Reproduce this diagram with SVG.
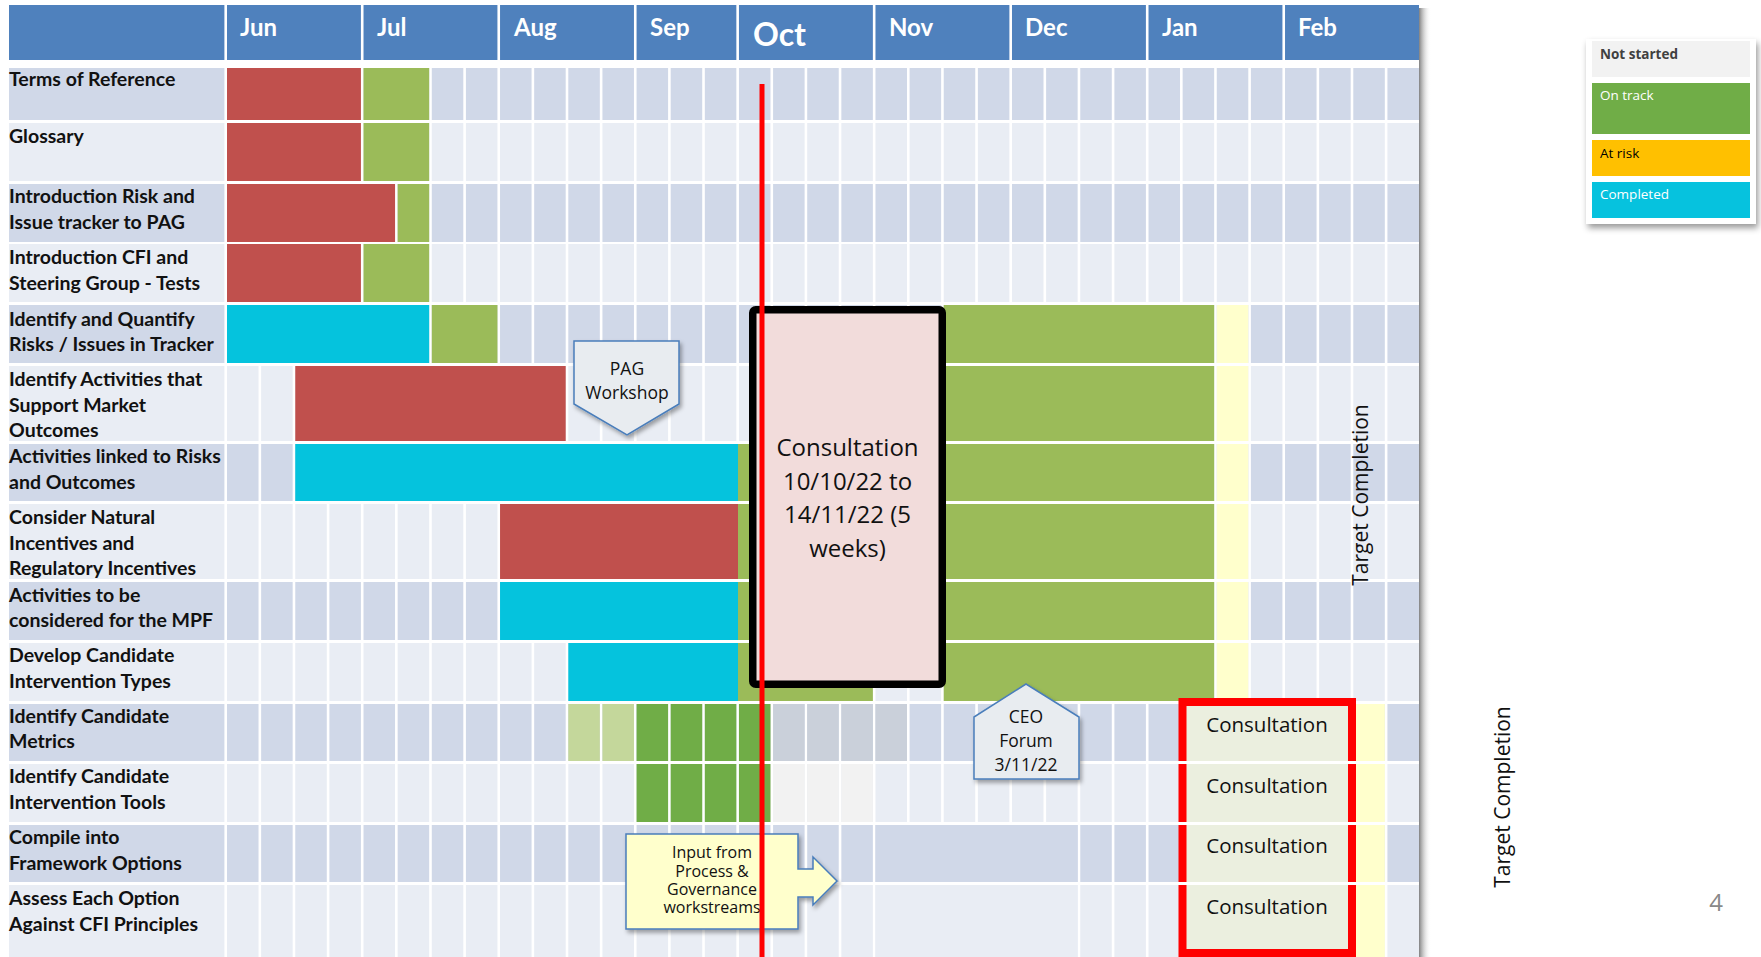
<svg xmlns="http://www.w3.org/2000/svg" width="1761" height="957" viewBox="0 0 1761 957">
<defs>
<style>
.lbl{font-family:Lato,"Open Sans","Liberation Sans",sans-serif;font-weight:700;font-size:19.5px;fill:#111}
.mon{font-family:Lato,"Open Sans","Liberation Sans",sans-serif;font-weight:700;font-size:24px;fill:#fff}
.os{font-family:"Open Sans","Liberation Sans",sans-serif;fill:#111}
.red{fill:#C0504D}.grn{fill:#9BBB59}.cyan{fill:#05C3DD}.yel{fill:#FFFFCC}
.dk{fill:#D0D8E8}.lt{fill:#E9EDF4}.og{fill:#70AD47}.lg{fill:#C4D79B}.gy{fill:#CAD0DA}.ng{fill:#F2F2F2}
.call{stroke:#4A7EBB;stroke-width:1.5}
</style>
<filter id="sh" x="-20%" y="-20%" width="150%" height="150%"><feDropShadow dx="2" dy="3" stdDeviation="2" flood-color="#000" flood-opacity="0.35"/></filter>
<filter id="lsh" x="-20%" y="-20%" width="150%" height="150%"><feDropShadow dx="2" dy="4" stdDeviation="3" flood-color="#000" flood-opacity="0.4"/></filter>
<linearGradient id="tsh" x1="0" x2="1" y1="0" y2="0"><stop offset="0" stop-color="#808080"/><stop offset="1" stop-color="#fff" stop-opacity="0"/></linearGradient>
</defs>
<rect width="1761" height="957" fill="#fff"/>

<!-- table shadow -->
<rect x="1419" y="8" width="12" height="949" fill="url(#tsh)"/>

<g id="header">
<rect x="9" y="5" width="1410" height="55" fill="#4F81BD"/>
<path d="M225.7 5V60M362.22 5V60M498.74 5V60M635.26 5V60M737.65 5V60M874.17 5V60M1010.69 5V60M1147.21 5V60M1283.73 5V60" stroke="#fff" stroke-width="2.6"/>
<text class="mon" x="240" y="36">Jun</text>
<text class="mon" x="377" y="36">Jul</text>
<text class="mon" x="514" y="36">Aug</text>
<text class="mon" x="650" y="36">Sep</text>
<text class="mon" x="753" y="46" style="font-size:32px">Oct</text>
<text class="mon" x="889" y="36">Nov</text>
<text class="mon" x="1025" y="36">Dec</text>
<text class="mon" x="1162" y="36">Jan</text>
<text class="mon" x="1298" y="36">Feb</text>
</g>

<g id="grid">
<rect class="dk" x="9" y="68" width="1410" height="52"/>
<rect class="lt" x="9" y="123" width="1410" height="58"/>
<rect class="dk" x="9" y="184" width="1410" height="58"/>
<rect class="lt" x="9" y="244" width="1410" height="58"/>
<rect class="dk" x="9" y="305" width="1410" height="58"/>
<rect class="lt" x="9" y="366" width="1410" height="75"/>
<rect class="dk" x="9" y="444" width="1410" height="57"/>
<rect class="lt" x="9" y="504" width="1410" height="75"/>
<rect class="dk" x="9" y="582" width="1410" height="58"/>
<rect class="lt" x="9" y="643" width="1410" height="58"/>
<rect class="dk" x="9" y="704" width="1410" height="57"/>
<rect class="lt" x="9" y="764" width="1410" height="58"/>
<rect class="dk" x="9" y="825" width="1410" height="57"/>
<rect class="lt" x="9" y="885" width="1410" height="72"/>
<path d="M225.7 60V957M259.83 60V957M293.96 60V957M328.09 60V957M362.22 60V957M396.35 60V957M430.48 60V957M464.61 60V957M498.74 60V957M532.87 60V957M567 60V957M601.13 60V957M635.26 60V957M669.39 60V957M703.52 60V957M737.65 60V957M771.78 60V957M805.91 60V957M840.04 60V957M874.17 60V957M908.3 60V957M942.43 60V957M976.56 60V957M1010.69 60V957M1044.82 60V957M1078.95 60V957M1113.08 60V957M1147.21 60V957M1181.34 60V957M1215.47 60V957M1249.6 60V957M1283.73 60V957M1317.86 60V957M1351.99 60V957M1386.12 60V957" stroke="#fff" stroke-width="2.6"/>
</g>

<g id="row-01">
<text class="lbl" x="9" y="86">Terms of Reference</text>
<rect class="red" x="227" y="68" width="133.92" height="52"/>
<rect class="grn" x="363.52" y="68" width="65.66" height="52"/>
</g>
<g id="row-02">
<text class="lbl" x="9" y="143">Glossary</text>
<rect class="red" x="227" y="123" width="133.92" height="58"/>
<rect class="grn" x="363.52" y="123" width="65.66" height="58"/>
</g>
<g id="row-03">
<text class="lbl" x="9" y="203">Introduction Risk and<tspan x="9" y="229">Issue tracker to PAG</tspan></text>
<rect class="red" x="227" y="184" width="168.05" height="58"/>
<rect class="grn" x="397.65" y="184" width="31.53" height="58"/>
</g>
<g id="row-04">
<text class="lbl" x="9" y="264">Introduction CFI and<tspan x="9" y="290">Steering Group - Tests</tspan></text>
<rect class="red" x="227" y="244" width="133.92" height="58"/>
<rect class="grn" x="363.52" y="244" width="65.66" height="58"/>
</g>
<g id="row-05">
<text class="lbl" x="9" y="326">Identify and Quantify<tspan x="9" y="351">Risks / Issues in Tracker</tspan></text>
<rect class="cyan" x="227" y="305" width="202.18" height="58"/>
<rect class="grn" x="431.78" y="305" width="65.66" height="58"/>
<rect class="grn" x="943.73" y="305" width="270.44" height="58"/>
<rect class="yel" x="1216.77" y="305" width="31.53" height="58"/>
</g>
<g id="row-06">
<text class="lbl" x="9" y="386">Identify Activities that<tspan x="9" y="412">Support Market</tspan><tspan x="9" y="437">Outcomes</tspan></text>
<rect class="red" x="295.26" y="366" width="270.44" height="75"/>
<rect class="grn" x="943.73" y="366" width="270.44" height="75"/>
<rect class="yel" x="1216.77" y="366" width="31.53" height="75"/>
</g>
<g id="row-07">
<text class="lbl" x="9" y="463">Activities linked to Risks<tspan x="9" y="489">and Outcomes</tspan></text>
<rect class="cyan" x="295.26" y="444" width="442.74" height="57"/>
<rect class="grn" x="738" y="444" width="476.17" height="57"/>
<rect class="yel" x="1216.77" y="444" width="31.53" height="57"/>
</g>
<g id="row-08">
<text class="lbl" x="9" y="524">Consider Natural<tspan x="9" y="550">Incentives and</tspan><tspan x="9" y="575">Regulatory Incentives</tspan></text>
<rect class="red" x="500.04" y="504" width="237.96" height="75"/>
<rect class="grn" x="738" y="504" width="476.17" height="75"/>
<rect class="yel" x="1216.77" y="504" width="31.53" height="75"/>
</g>
<g id="row-09">
<text class="lbl" x="9" y="602">Activities to be<tspan x="9" y="627">considered for the MPF</tspan></text>
<rect class="cyan" x="500.04" y="582" width="237.96" height="58"/>
<rect class="grn" x="738" y="582" width="476.17" height="58"/>
<rect class="yel" x="1216.77" y="582" width="31.53" height="58"/>
</g>
<g id="row-10">
<text class="lbl" x="9" y="662">Develop Candidate<tspan x="9" y="688">Intervention Types</tspan></text>
<rect class="cyan" x="568.3" y="643" width="169.7" height="58"/>
<rect class="grn" x="738" y="643" width="134.87" height="58"/>
<rect class="grn" x="943.73" y="643" width="270.44" height="58"/>
<rect class="yel" x="1216.77" y="643" width="31.53" height="58"/>
</g>
<g id="row-11">
<text class="lbl" x="9" y="723">Identify Candidate<tspan x="9" y="748">Metrics</tspan></text>
<rect class="lg" x="568.3" y="704" width="31.53" height="57"/>
<rect class="lg" x="602.43" y="704" width="31.53" height="57"/>
<rect class="og" x="636.56" y="704" width="31.53" height="57"/>
<rect class="og" x="670.69" y="704" width="31.53" height="57"/>
<rect class="og" x="704.82" y="704" width="31.53" height="57"/>
<rect class="og" x="738.95" y="704" width="31.53" height="57"/>
<rect class="gy" x="773.08" y="704" width="31.53" height="57"/>
<rect class="gy" x="807.21" y="704" width="31.53" height="57"/>
<rect class="gy" x="841.34" y="704" width="31.53" height="57"/>
<rect class="gy" x="875.47" y="704" width="31.53" height="57"/>
<rect class="yel" x="1353.29" y="704" width="31.53" height="57"/>
</g>
<g id="row-12">
<text class="lbl" x="9" y="783">Identify Candidate<tspan x="9" y="809">Intervention Tools</tspan></text>
<rect class="og" x="636.56" y="764" width="31.53" height="58"/>
<rect class="og" x="670.69" y="764" width="31.53" height="58"/>
<rect class="og" x="704.82" y="764" width="31.53" height="58"/>
<rect class="og" x="738.95" y="764" width="31.53" height="58"/>
<rect class="ng" x="773.08" y="764" width="31.53" height="58"/>
<rect class="ng" x="807.21" y="764" width="31.53" height="58"/>
<rect class="ng" x="841.34" y="764" width="31.53" height="58"/>
<rect class="yel" x="1353.29" y="764" width="31.53" height="58"/>
</g>
<g id="row-13">
<text class="lbl" x="9" y="844">Compile into<tspan x="9" y="870">Framework Options</tspan></text>
<rect class="dk" x="875.47" y="825" width="202.18" height="57"/>
<rect class="yel" x="1353.29" y="825" width="31.53" height="57"/>
</g>
<g id="row-14">
<text class="lbl" x="9" y="905">Assess Each Option<tspan x="9" y="931">Against CFI Principles</tspan></text>
<rect class="lt" x="875.47" y="885" width="202.18" height="72"/>
<rect class="yel" x="1353.29" y="885" width="31.53" height="72"/>
</g>

<g id="consultation-main">
<rect x="752.75" y="309.75" width="189.5" height="374.5" rx="3" fill="#F2DCDB" stroke="#000" stroke-width="7.5"/>
<text class="os" x="847.5" y="456" text-anchor="middle" font-size="24">Consultation<tspan x="847.5" y="490">10/10/22 to</tspan><tspan x="847.5" y="523">14/11/22 (5</tspan><tspan x="847.5" y="557">weeks)</tspan></text>
</g>

<g id="consultation-cells">
<rect x="1182.64" y="704" width="168.05" height="57" fill="#EBEFDF"/>
<rect x="1182.64" y="764" width="168.05" height="58" fill="#EBEFDF"/>
<rect x="1182.64" y="825" width="168.05" height="57" fill="#EBEFDF"/>
<rect x="1182.64" y="885" width="168.05" height="72" fill="#EBEFDF"/>
<rect x="1182.5" y="702" width="169.5" height="251" fill="none" stroke="#FF0000" stroke-width="8"/>
<path d="M1177 762.5H1357M1177 823.5H1357M1177 883.5H1357" stroke="#fff" stroke-width="3"/>
<g class="os" font-size="20.5" text-anchor="middle">
<text x="1267" y="732">Consultation</text>
<text x="1267" y="793">Consultation</text>
<text x="1267" y="853">Consultation</text>
<text x="1267" y="914">Consultation</text>
</g>
</g>

<g id="pag-workshop">
<polygon class="call" points="574,341 679,341 679,404 627,435 574,404" fill="#E8ECF0" filter="url(#sh)"/>
<text class="os" x="627" y="375" text-anchor="middle" font-size="17.5">PAG<tspan x="627" y="399">Workshop</tspan></text>
</g>

<g id="ceo-forum">
<polygon class="call" points="1026,684 1079,717 1079,779 974,779 974,717" fill="#E8ECF0" filter="url(#sh)"/>
<text class="os" x="1026" y="723" text-anchor="middle" font-size="17.5">CEO<tspan x="1026" y="747">Forum</tspan><tspan x="1026" y="771">3/11/22</tspan></text>
</g>

<g id="input-process">
<polygon class="call" points="626,834 798,834 798,869 813,869 813,857 837,881 813,905 813,897 798,897 798,929 626,929" fill="#FFFFCC" filter="url(#sh)"/>
<text class="os" x="712" y="858" text-anchor="middle" font-size="16">Input from<tspan x="712" y="877">Process &amp;</tspan><tspan x="712" y="895">Governance</tspan><tspan x="712" y="913">workstreams</tspan></text>
</g>

<g id="connectors">
<line id="today-line" x1="762" y1="84" x2="762" y2="957" stroke="#FF0000" stroke-width="5"/>
</g>

<g id="target-completion">
<text class="os" transform="translate(1368,495) rotate(-90)" text-anchor="middle" font-size="21">Target Completion</text>
<text class="os" transform="translate(1510,797) rotate(-90)" text-anchor="middle" font-size="21">Target Completion</text>
</g>

<g id="legend">
<rect x="1586" y="39" width="170" height="185" fill="#fff" filter="url(#lsh)"/>
<rect x="1592" y="41" width="158" height="36" fill="#F2F2F2"/>
<rect x="1592" y="83" width="158" height="51" fill="#70AD47"/>
<rect x="1592" y="140" width="158" height="36" fill="#FFC000"/>
<rect x="1592" y="182" width="158" height="36" fill="#06C2DE"/>
<g font-family="'Open Sans','Liberation Sans',sans-serif" font-size="13.5">
<text x="1600" y="59" font-weight="700" fill="#404040">Not started</text>
<text x="1600" y="100" fill="#fff">On track</text>
<text x="1600" y="158" fill="#000">At risk</text>
<text x="1600" y="199" fill="#fff">Completed</text>
</g>
</g>

<text id="page-number" x="1716" y="911" text-anchor="middle" font-family="'Open Sans','Liberation Sans',sans-serif" font-size="24" fill="#898989">4</text>
</svg>
